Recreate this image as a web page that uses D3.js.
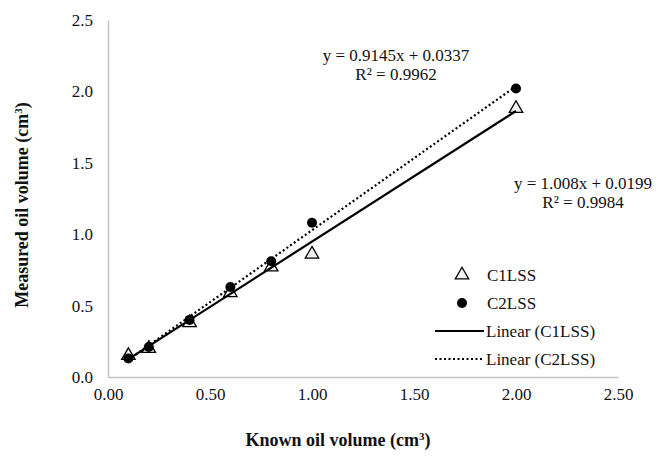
<!DOCTYPE html>
<html>
<head>
<meta charset="utf-8">
<script src="https://cdn.jsdelivr.net/npm/d3@7"></script>
<style>
  body { margin: 0; background: #fff; }
  text { font-family: "Liberation Serif", "Times New Roman", serif; fill: #111; }
</style>
</head>
<body>
<svg width="662" height="456"></svg>
<script>
// data
var knownVolume = [0.1, 0.2, 0.4, 0.6, 0.8, 1.0, 2.0];
var c1lss = [0.15, 0.20, 0.38, 0.59, 0.77, 0.86, 1.88];
var c2lss = [0.13, 0.21, 0.40, 0.63, 0.81, 1.08, 2.02];

var xTicks = [0, 0.5, 1.0, 1.5, 2.0, 2.5];
var yTicks = [0, 0.5, 1.0, 1.5, 2.0, 2.5];

// trendline coefficients as printed on the chart
var trendC1 = {slope: 0.9145, intercept: 0.0337, label: "y = 0.9145x + 0.0337", r2: "R² = 0.9962"};
var trendC2 = {slope: 1.008, intercept: 0.0199, label: "y = 1.008x + 0.0199", r2: "R² = 0.9984"};

var legendNames = ["C1LSS", "C2LSS", "Linear (C1LSS)", "Linear (C2LSS)"];

var svg = d3.select("svg"),
    margin = {top: 20, right: 44, bottom: 79, left: 108},
    width = 662 - margin.left - margin.right,
    height = 456 - margin.top - margin.bottom;

var x = d3.scaleLinear().domain([0, 2.5]).range([0, width]);
var y = d3.scaleLinear().domain([0, 2.5]).range([height, 0]);

var g = svg.append("g")
    .attr("transform", "translate(" + margin.left + "," + margin.top + ")");

// axes
var xAxis = g.append("g")
    .attr("transform", "translate(0," + height + ")")
    .call(d3.axisBottom(x).tickValues(xTicks).tickFormat(d3.format(".2f")).tickSize(0).tickPadding(11));
var yAxis = g.append("g")
    .call(d3.axisLeft(y).tickValues(yTicks).tickFormat(d3.format(".1f")).tickSize(0).tickPadding(15));

[xAxis, yAxis].forEach(function(a) {
  a.select(".domain").attr("stroke", "#c4c4c4").attr("stroke-width", 1.5);
  a.selectAll("text").style("font-size", "17px").style("font-family", "Liberation Serif").attr("fill", "#111");
});

// axis titles
svg.append("text")
    .attr("x", 338).attr("y", 446)
    .attr("text-anchor", "middle")
    .style("font-size", "18px").style("font-weight", "bold")
    .html("Known oil volume (cm<tspan baseline-shift='super' font-size='11px'>3</tspan>)");

svg.append("text")
    .attr("transform", "translate(28,205) rotate(-90)")
    .attr("text-anchor", "middle")
    .style("font-size", "18px").style("font-weight", "bold")
    .html("Measured oil volume (cm<tspan baseline-shift='super' font-size='11px'>3</tspan>)");

// markers
var tri = d3.symbol().type(d3.symbolTriangle).size(78);

g.selectAll(".c1")
    .data(knownVolume)
  .enter().append("path")
    .attr("class", "c1")
    .attr("d", tri)
    .attr("transform", function(d, i) { return "translate(" + x(d) + "," + y(c1lss[i]) + ")"; })
    .attr("fill", "#f2f2f2")
    .attr("stroke", "#000")
    .attr("stroke-width", 1.3);

g.selectAll(".c2")
    .data(knownVolume)
  .enter().append("circle")
    .attr("class", "c2")
    .attr("cx", function(d) { return x(d); })
    .attr("cy", function(d, i) { return y(c2lss[i]); })
    .attr("r", 5)
    .attr("fill", "#000");

// trendlines over the data range
var xr = d3.extent(knownVolume);
var line = d3.line().x(function(d) { return x(d[0]); }).y(function(d) { return y(d[1]); });

function trendPts(t) {
  return xr.map(function(v) { return [v, t.slope * v + t.intercept]; });
}

g.append("path")
    .attr("d", line(trendPts(trendC1)))
    .attr("fill", "none").attr("stroke", "#000").attr("stroke-width", 2.2);

g.append("path")
    .attr("d", line(trendPts(trendC2)))
    .attr("fill", "none").attr("stroke", "#000").attr("stroke-width", 2.2)
    .attr("stroke-dasharray", "2,2.5");

// equation labels
function eqLabel(t, cx, cy) {
  svg.append("text").attr("x", cx).attr("y", cy).attr("text-anchor", "middle")
      .style("font-size", "17px").text(t.label);
  svg.append("text").attr("x", cx).attr("y", cy + 19).attr("text-anchor", "middle")
      .style("font-size", "17px").text(t.r2);
}
eqLabel(trendC1, 396, 61);
eqLabel(trendC2, 583, 189);

// legend
var leg = svg.append("g");
var legY = [275, 303, 331, 359];

leg.append("path").attr("d", tri)
    .attr("transform", "translate(462," + legY[0] + ")")
    .attr("fill", "#f2f2f2").attr("stroke", "#000").attr("stroke-width", 1.3);
leg.append("circle").attr("cx", 462).attr("cy", legY[1]).attr("r", 5).attr("fill", "#000");
leg.append("line").attr("x1", 435).attr("x2", 484).attr("y1", legY[2]).attr("y2", legY[2])
    .attr("stroke", "#000").attr("stroke-width", 2.2);
leg.append("line").attr("x1", 435).attr("x2", 484).attr("y1", legY[3]).attr("y2", legY[3])
    .attr("stroke", "#000").attr("stroke-width", 2.2).attr("stroke-dasharray", "2,2.5");

leg.selectAll(".lt")
    .data(legendNames)
  .enter().append("text")
    .attr("class", "lt")
    .attr("x", function(d, i) { return i < 2 ? 487 : 486; })
    .attr("y", function(d, i) { return legY[i]; })
    .attr("dy", "0.35em")
    .style("font-size", "17px")
    .text(function(d) { return d; });
</script>
</body>
</html>
